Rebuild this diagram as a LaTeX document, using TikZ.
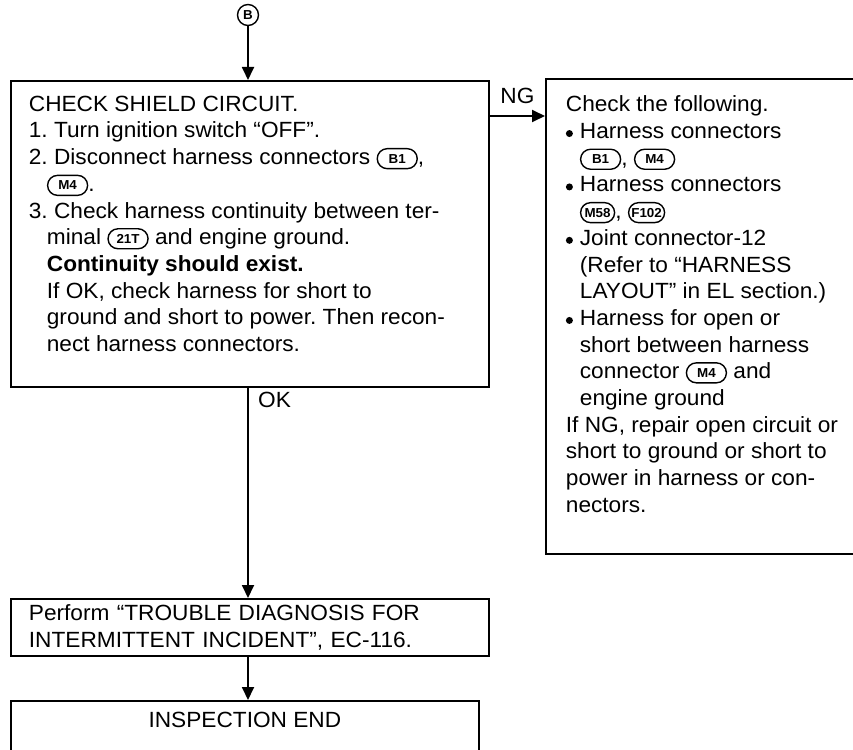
\documentclass[tikz,border=0pt]{standalone}
\usepackage{fontspec}
\setmainfont{Liberation Sans}[FakeStretch=1.03]
\usetikzlibrary{arrows.meta}
\newcommand{\harn}[2][40pt]{\tikz[x=1cm,y=1cm,baseline={([yshift=-6pt]h.center)}]\node[draw,line width=1.4pt,rounded corners=10pt,minimum width=#1,minimum height=20pt,inner sep=1pt,font=\fontsize{13}{13}\selectfont\bfseries] (h) {#2};}
\newcommand{\blt}{\makebox[14pt][l]{\tikz[x=1cm,y=1cm,baseline={(0,-5pt)}]\fill (0,0) circle (3.5pt);}}
\newcommand{\ind}{\hspace*{18pt}}
\tikzset{
  box/.style={draw, line width=1.8pt, anchor=north west, inner xsep=18pt, inner ysep=0pt, align=left},
  arr/.style={line width=1.8pt, -{Triangle[length=13pt,width=12pt]}},
}
\begin{document}
\frenchspacing
\begin{tikzpicture}[x=1pt,y=-1pt,font=\fontsize{22}{26.7}\selectfont]
  \useasboundingbox (0,0) rectangle (853,749);
  \clip (0,0) rectangle (853,749);
  \node[draw,circle,line width=1.4pt,minimum size=21pt,inner sep=0pt,font=\fontsize{13}{13}\selectfont\bfseries] (b) at (248,15) {B};
  \node[box,inner ysep=15pt] (chk) at (10,80) {\begin{minipage}[c][276pt][t]{442pt}
    CHECK SHIELD CIRCUIT.\\
    1. Turn ignition switch “OFF”.\\
    2. Disconnect harness connectors \harn{B1},\\
    \ind\harn{M4}.\\
    3. Check harness continuity between ter-\\
    \ind minal \harn{21T} and engine ground.\\
    \ind\textbf{Continuity should exist.}\\
    \ind If OK, check harness for short to\\
    \ind ground and short to power. Then recon-\\
    \ind nect harness connectors.
  \end{minipage}};
  \node[box,inner ysep=17pt,inner xsep=20pt] (ng) at (545,78) {\begin{minipage}[c][441pt][t]{300pt}
    Check the following.\\
    \blt Harness connectors\\
    \hspace*{14pt}\harn{B1}, \harn{M4}\\
    \blt Harness connectors\\
    \hspace*{14pt}\harn[34pt]{M58}, \harn[36pt]{F102}\\
    \blt Joint connector-12\\
    \hspace*{14pt}(Refer to “HARNESS\\
    \hspace*{14pt}LAYOUT” in EL section.)\\
    \blt Harness for open or\\
    \hspace*{14pt}short between harness\\
    \hspace*{14pt}connector \harn{M4} and\\
    \hspace*{14pt}engine ground\\
    If NG, repair open circuit or\\
    short to ground or short to\\
    power in harness or con-\\
    nectors.
  \end{minipage}};
  \node[box,minimum width=478pt,minimum height=57pt,text width=442pt] (diag) at (10,598)
    {Perform “TROUBLE DIAGNOSIS FOR\\INTERMITTENT INCIDENT”, EC-116.};
  \node[box,inner ysep=11pt] (fin) at (10,700) {\begin{minipage}[c][60pt][t]{432pt}
    \centering INSPECTION END
  \end{minipage}};
  % connectors
  \draw[arr] (b) -- (b |- chk.north);
  \draw[arr] ([yshift=-36pt]chk.north east) coordinate (ngout) -- (ngout -| ng.west) node[midway,above=8pt]{NG};
  \draw[arr] (b |- chk.south) -- (b |- diag.north) node[pos=0,anchor=north west,xshift=6pt]{OK};
  \draw[arr] (b |- diag.south) -- (b |- fin.north);
\end{tikzpicture}
\end{document}
